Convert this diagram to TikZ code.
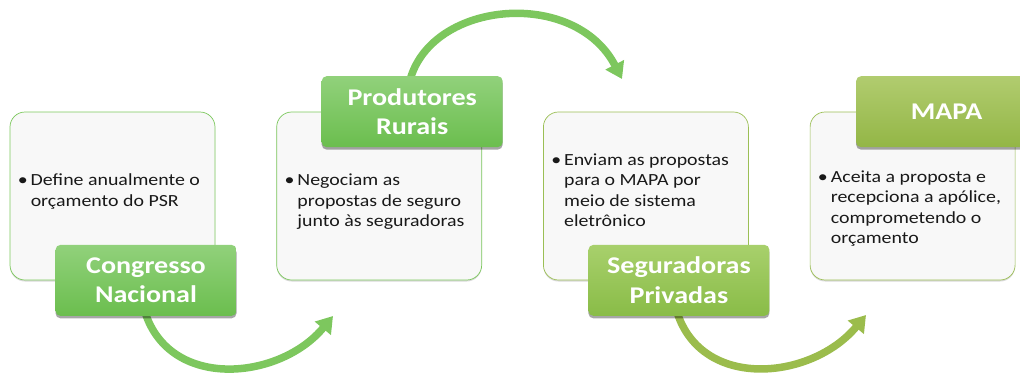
\documentclass[tikz,border=0pt]{standalone}
\usepackage{fontspec}
\setmainfont[FakeStretch=1.17]{Carlito}
\usetikzlibrary{positioning,arrows.meta,shadows}

\definecolor{boxfill}{HTML}{F8F8F8}
\definecolor{greenA}{HTML}{7CC85D}
\definecolor{greenB}{HTML}{9BBF55}
\definecolor{headAtop}{HTML}{91D17B}
\definecolor{headAbot}{HTML}{6BBE4E}
\definecolor{headBtop}{HTML}{A8D06C}
\definecolor{headBbot}{HTML}{89BC47}
\definecolor{headCtop}{HTML}{B1CC6F}
\definecolor{headCbot}{HTML}{93B646}
\definecolor{arrowA}{HTML}{7DC75E}
\definecolor{arrowB}{HTML}{9BBC4C}

\newcommand{\pitem}[1]{\textbullet\hspace{3pt}\begin{tabular}[t]{@{}l@{}}#1\end{tabular}}

\tikzset{
  infobox/.style={draw=#1, line width=0.7pt, fill=boxfill, rounded corners=15pt,
    minimum width=205pt, minimum height=168pt,
    drop shadow={shadow xshift=0pt, shadow yshift=-1.5pt, opacity=0.15, fill=black}},
  headbox/.style 2 args={top color=#1, bottom color=#2, draw=none, rounded corners=5pt,
    minimum width=181pt, minimum height=71pt, align=center, text=white,
    font=\fontsize{24}{29.5}\selectfont\bfseries,
    drop shadow={shadow xshift=0pt, shadow yshift=-2.5pt, opacity=0.35, fill=black}},
  bodytext/.style={anchor=west, inner sep=2pt, text=black!90,
    font=\fontsize{17}{20.5}\selectfont},
  flowarrow/.style={draw=#1, line width=7.5pt, -{Triangle[width=20pt,length=16pt]}}
}

\begin{document}
\begin{tikzpicture}[x=1pt,y=-1pt]
\clip (0,0) rectangle (1020,373);

% arrows under the boxes
\node[infobox=greenA] (bCN) at (112.5,196) {};
\node[infobox=greenA, right=61pt of bCN] (bPR) {};
\node[infobox=greenB, right=61pt of bPR] (bSP) {};
\node[infobox=greenB, right=61pt of bSP] (bMA) {};

\coordinate (tipA) at (333,316);
\coordinate (tipB) at (622,79);
\coordinate (tipC) at (866,315);

\draw[flowarrow=arrowA] (145,312) .. controls (170,391) and (280,380) .. (tipA);
\draw[flowarrow=arrowA] (410,80) .. controls (432,0) and (575,-12) .. (tipB);
\draw[flowarrow=arrowB] (677,312) .. controls (702,391) and (812,380) .. (tipC);

% headers
\node[headbox={headAtop}{headAbot}, xshift=33.5pt] (hCN) at (bCN.south) {Congresso\\Nacional};
\node[headbox={headAtop}{headAbot}, xshift=33pt] (hPR) at (bPR.north) {Produtores\\Rurais};
\node[headbox={headBtop}{headBbot}, xshift=33pt] (hSP) at (bSP.south) {Seguradoras\\Privadas};
\node[headbox={headCtop}{headCbot}, xshift=34pt] (hMA) at (bMA.north) {MAPA};

% texts
\node[bodytext, xshift=6pt, yshift=4pt] (tCN) at (bCN.west)
  {\pitem{Define anualmente o\\orçamento do PSR}};
\node[bodytext, xshift=6pt, yshift=-6pt] (tPR) at (bPR.west)
  {\pitem{Negociam as\\propostas de seguro\\junto às seguradoras}};
\node[bodytext, xshift=6pt, yshift=4pt] (tSP) at (bSP.west)
  {\pitem{Enviam as propostas\\para o MAPA por\\meio de sistema\\eletrônico}};
\node[bodytext, xshift=6pt, yshift=-13pt] (tMA) at (bMA.west)
  {\pitem{Aceita a proposta e\\recepciona a apólice,\\comprometendo o\\orçamento}};
\end{tikzpicture}
\end{document}
